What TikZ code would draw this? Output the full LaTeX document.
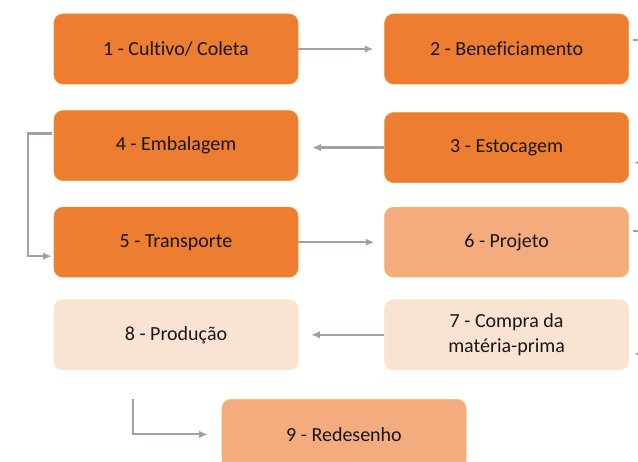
\documentclass[tikz,border=0pt]{standalone}
\usepackage{fontspec}
\setmainfont[Ligatures=NoCommon]{Carlito}
\usetikzlibrary{positioning,arrows.meta}
\definecolor{stepdark}{RGB}{237,125,49}
\definecolor{stepmid}{RGB}{244,172,126}
\definecolor{steplight}{RGB}{251,227,212}
\definecolor{linkgray}{RGB}{158,162,168}
\definecolor{txtgray}{RGB}{25,22,22}

\begin{document}
\begin{tikzpicture}[x=1pt,y=1pt,
  node distance=26pt and 86pt,
  blk/.style={rounded corners=9pt,minimum width=244pt,minimum height=70pt,
              inner sep=2pt,align=center,fill=stepdark,draw=stepdark!85!yellow,
              line width=0.6pt,text=txtgray,font=\fontsize{20}{25.5}\selectfont},
  midblk/.style={blk,fill=stepmid,draw=stepmid!85!yellow},
  lightblk/.style={blk,fill=steplight,draw=steplight!90!yellow},
  ar/.style={-{Latex[length=8.5pt,width=7.5pt]},line width=2.2pt,draw=linkgray}
]
\useasboundingbox (0,0) rectangle (638,-462);
\fill[white] (0,0) rectangle (638,-462);

\node[blk] (cult) at (176,-49) {1 - Cultivo/ Coleta};
\node[blk,right=of cult] (benef) {2 - Beneficiamento};
\node[blk,below=of cult] (embal) {4 - Embalagem};
\node[blk,right=of embal,yshift=-2pt] (estoc) {3 - Estocagem};
\node[blk,below=of embal] (transp) {5 - Transporte};
\node[midblk,right=of transp] (proj) {6 - Projeto};
\node[lightblk,below=22pt of transp] (prod) {8 - Produção};
\node[lightblk,right=of prod] (compra) {7 - Compra da\\matéria-prima};
\node[midblk,below=29pt of prod,xshift=168pt] (redes) {9 - Redesenho};

\draw[ar,shorten >=11pt] (cult) -- (benef);
\draw[ar,shorten >=14pt] (estoc.west) -- (estoc.west -| embal.east);
\draw[ar,shorten >=10pt] (transp) -- (proj);
\draw[ar,shorten >=13pt] (compra) -- (prod);

\draw[ar] ([xshift=4pt,yshift=9pt]benef.east) -- ++(24,0) |- ([xshift=5pt,yshift=-15pt]estoc.east);
\draw[ar] ([xshift=4pt,yshift=11pt]proj.east) -- ++(24,0) |- ([xshift=5pt,yshift=-19pt]compra.east);
\draw[ar] ([xshift=-2pt,yshift=12pt]embal.west) -- ++(-24,0) |- ([xshift=-2pt,yshift=-14pt]transp.west);
\draw[ar] ([xshift=-43pt,yshift=-29pt]prod.south) |- ([xshift=-14pt]redes.west);
\end{tikzpicture}
\end{document}
